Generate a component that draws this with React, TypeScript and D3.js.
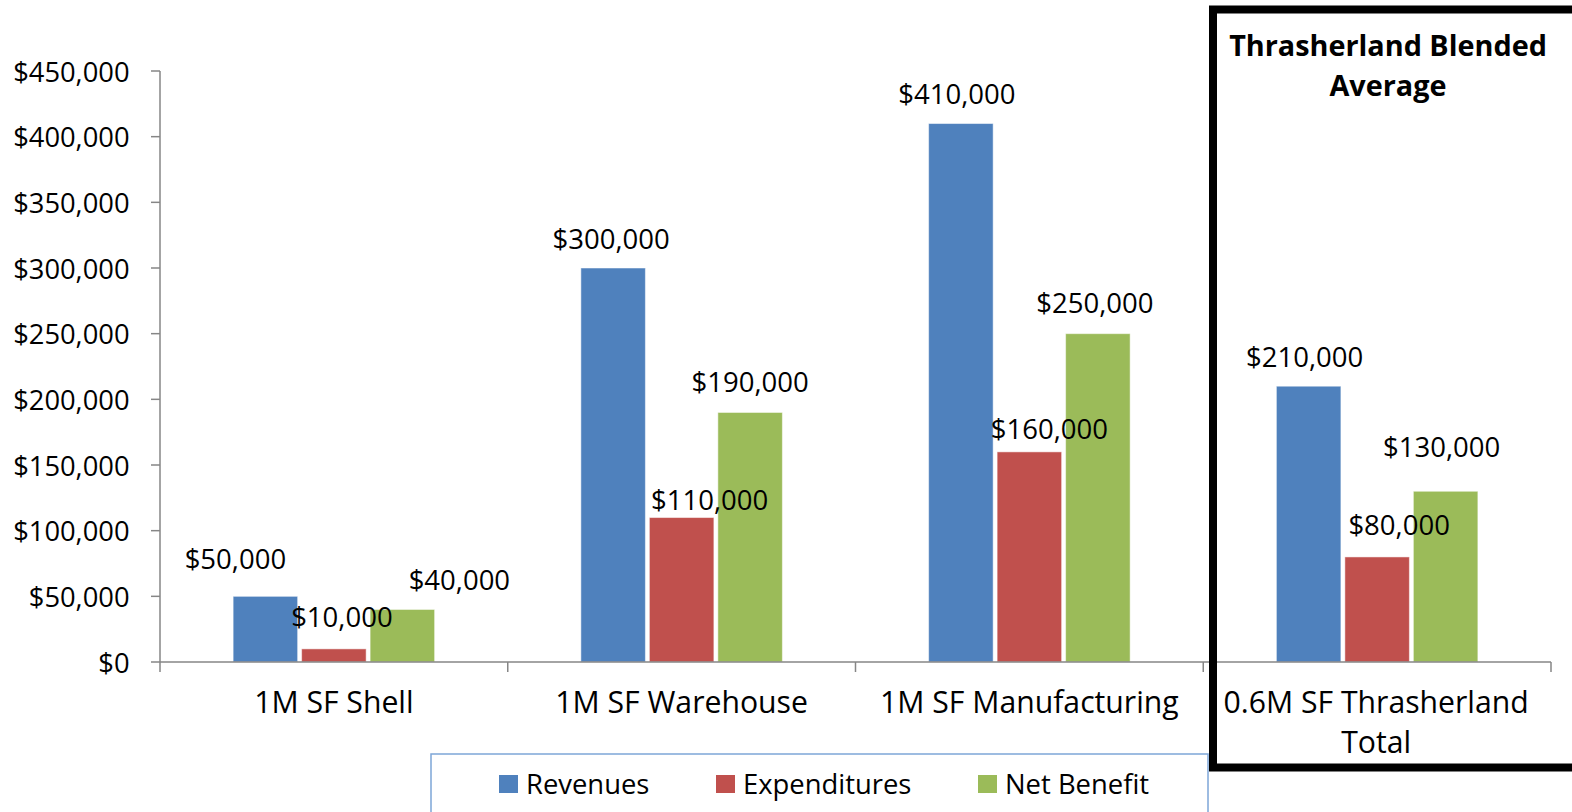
import React from "react";
import * as d3 from "d3";

const categories = ["1M SF Shell", "1M SF Warehouse", "1M SF Manufacturing", "0.6M SF Thrasherland Total"];
const seriesNames = ["Revenues", "Expenditures", "Net Benefit"];
const revenues = [50000, 300000, 410000, 210000];
const expenditures = [10000, 110000, 160000, 80000];
const netBenefit = [40000, 190000, 250000, 130000];
const yTicks = [0, 50000, 100000, 150000, 200000, 250000, 300000, 350000, 400000, 450000];
const boxTitle = ["Thrasherland Blended", "Average"];

const colors = ["#4f81bd", "#c0504d", "#9bbb59"];
// label nudges (layout only), per category then series: [dx, dy]
const labelNudge = [
  [[-30, -8], [8, -2], [57, 0]],
  [[-2, 0], [28, 12], [0, -1]],
  [[-4, 0], [20, 7], [-3, -1]],
  [[-4, 0], [22, -2], [-4, -15]],
];

const W = 1572, H = 812;
const FONT = "'Open Sans', sans-serif";

export default function App() {
  const series = [revenues, expenditures, netBenefit];
  const x0 = d3.scaleBand<string>().domain(categories).range([160, 1551]).padding(0);
  const x1 = d3.scaleBand<string>().domain(seriesNames).range([0, 201.5]).paddingInner(0.058);
  const y = d3.scaleLinear().domain([0, 450000]).range([662, 71]);
  const fmt = (v: number) => "$" + d3.format(",")(v);
  const axisColor = "#868686";
  const groupW = 201.5;

  return (
    <svg width={W} height={H} style={{ position: "absolute", left: 0, top: 0, background: "#fff" }} fontFamily={FONT}>
      <rect x={0} y={0} width={W} height={H} fill="#fff" />
      {/* y axis */}
      <line x1={160} x2={160} y1={y(450000)} y2={y(0)} stroke={axisColor} strokeWidth={1.5} />
      {yTicks.map((t) => (
        <g key={t}>
          <line x1={151} x2={160} y1={y(t)} y2={y(t)} stroke={axisColor} strokeWidth={1.5} />
          <text x={129.5} y={y(t)} textAnchor="end" dominantBaseline="central" fontSize={27.3} fill="#000">
            {fmt(t)}
          </text>
        </g>
      ))}
      {/* bars */}
      {categories.map((c, ci) => {
        const cx = (x0(c) as number) + x0.bandwidth() / 2;
        const gx = cx - groupW / 2;
        return (
          <g key={c}>
            {seriesNames.map((s, si) => {
              const v = series[si][ci];
              const bx = gx + (x1(s) as number);
              return (
                <rect key={s} x={bx} y={y(v)} width={x1.bandwidth()} height={y(0) - y(v)} fill={colors[si]} stroke="#fff" strokeOpacity={0.5} strokeWidth={1} />
              );
            })}
          </g>
        );
      })}
      {/* x axis */}
      <line x1={160} x2={1551} y1={y(0)} y2={y(0)} stroke={axisColor} strokeWidth={1.5} />
      {[...categories.map((c) => x0(c) as number), 1551].map((tx, i) => (
        <line key={i} x1={tx} x2={tx} y1={y(0)} y2={y(0) + 10} stroke={axisColor} strokeWidth={1.5} />
      ))}
      {categories.map((c, ci) => {
        const cx = (x0(c) as number) + x0.bandwidth() / 2;
        const lines = ci === 3 ? ["0.6M SF Thrasherland", "Total"] : [c];
        return lines.map((l, li) => (
          <text key={c + li} x={cx - (ci === 3 ? 1 : 0)} y={701 + li * 40} textAnchor="middle" dominantBaseline="central" fontSize={30.2} fill="#000">
            {l}
          </text>
        ));
      })}
      {/* value labels */}
      {categories.map((c, ci) => {
        const cx = (x0(c) as number) + x0.bandwidth() / 2;
        const gx = cx - groupW / 2;
        return seriesNames.map((s, si) => {
          const v = series[si][ci];
          const bx = gx + (x1(s) as number) + x1.bandwidth() / 2;
          const [dx, dy] = labelNudge[ci][si];
          return (
            <text key={c + s} x={bx + dx} y={y(v) - 30 + dy} textAnchor="middle" dominantBaseline="central" fontSize={27.5} fill="#000">
              {fmt(v)}
            </text>
          );
        });
      })}
      {/* legend */}
      <rect x={431} y={754} width={777} height={80} fill="#fff" stroke="#7ea6d8" strokeWidth={1.5} />
      {seriesNames.map((s, si) => {
        const lx = [499, 716, 978][si];
        return (
          <g key={s}>
            <rect x={lx} y={775} width={19} height={18} fill={colors[si]} />
            <text x={lx + 27} y={783} dominantBaseline="central" fontSize={27.4} fill="#000">
              {s}
            </text>
          </g>
        );
      })}
      {/* highlight box */}
      <rect x={1213} y={9.5} width={400} height={758} fill="none" stroke="#000" strokeWidth={8} />
      {boxTitle.map((t, i) => (
        <text key={t} x={1388} y={44 + i * 40} textAnchor="middle" dominantBaseline="central" fontSize={28.8} fontWeight="bold" fill="#000">
          {t}
        </text>
      ))}
    </svg>
  );
}
